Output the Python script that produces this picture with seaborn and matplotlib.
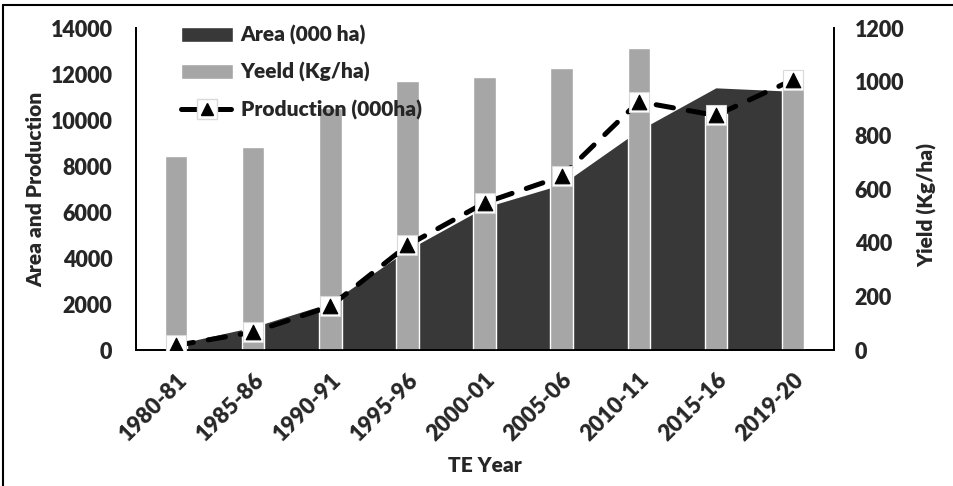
import matplotlib.pyplot as plt
import seaborn as sns
import pandas as pd
from matplotlib.lines import Line2D
from matplotlib.patches import Patch

# data
years = ['1980-81', '1985-86', '1990-91', '1995-96', '2000-01',
         '2005-06', '2010-11', '2015-16', '2019-20']
area = [250, 1000, 2050, 4350, 6200, 7200, 9550, 11400, 11250]
production = [200, 780, 1900, 4550, 6400, 7550, 10800, 10200, 11750]
yield_kg = [723, 757, 902, 1003, 1017, 1051, 1126, 880, 1030]

df = pd.DataFrame({'year': years, 'area': area,
                   'production': production, 'yield': yield_kg})
df['pos'] = range(len(df))

sns.set_style('white')
plt.rcParams['font.family'] = ['Lato', 'DejaVu Sans']
W = 'heavy'
plt.rcParams['font.weight'] = W

dark = '#383838'
light = '#a6a6a6'

fig = plt.figure(figsize=(9.54, 4.86), dpi=100)
ax1 = fig.add_axes([0.1426, 0.2798, 0.7314, 0.6625])
ax2 = ax1.twinx()
ax3 = fig.add_axes(ax1.get_position(), sharex=ax1, sharey=ax1)

# area (left axis, at the back)
ax1.fill_between(df['pos'], df['area'], color=dark, lw=0)

# yield bars (right axis)
sns.barplot(data=df, x='year', y='yield', ax=ax2, color=light,
            width=0.29, saturation=1)

# production line (left scale, on top)
sns.lineplot(data=df, x='pos', y='production', ax=ax3, color='black',
             lw=3.6, linestyle=(0, (3.5, 3)), dash_capstyle='round')
sns.scatterplot(data=df, x='pos', y='production', ax=ax3, marker='s',
                s=200, color='white', edgecolor='#d9d9d9', linewidth=0.8,
                zorder=3)
sns.scatterplot(data=df, x='pos', y='production', ax=ax3, marker='^',
                s=110, color='black', edgecolor='black', zorder=4)

ax1.set_xlim(-0.52, 8.53)
ax1.set_ylim(0, 14000)
ax2.set_ylim(0, 1200)
ax1.set_yticks(range(0, 14001, 2000))
ax2.set_yticks(range(0, 1201, 200))
ax1.set_xticks(df['pos'])
ax1.set_xticklabels(years, rotation=45, ha='right', va='top',
                    rotation_mode='anchor', fontsize=16, fontweight=W)

ax1.tick_params(axis='y', length=0, pad=17, labelsize=15.5)
ax2.tick_params(axis='y', length=0, pad=15, labelsize=15.5)
ax1.tick_params(axis='x', length=0, pad=14)
for lab in ax1.get_yticklabels() + ax2.get_yticklabels():
    lab.set_fontweight(W)

ax3.set_axis_off()
ax2.set_xlabel('')
ax2.set_ylabel('Yield (Kg/ha)', fontsize=15, fontweight=W)
ax2.yaxis.set_label_coords(1.12, 0.45)
ax1.set_ylabel('Area and Production', fontsize=15, fontweight=W)
ax1.yaxis.set_label_coords(-0.13, 0.5)
ax1.set_xlabel('TE Year', fontsize=15, fontweight=W)
ax1.xaxis.set_label_coords(0.5, -0.33)

for ax in (ax1, ax2):
    ax.spines['top'].set_visible(False)
    for s in ('left', 'right', 'bottom'):
        ax.spines[s].set_color('black')
        ax.spines[s].set_linewidth(1.3)

# legend
prod_handle = (Line2D([], [], color='black', lw=3.6, linestyle=(0, (3.5, 3)),
                      dash_capstyle='round'),
               Line2D([], [], ls='none', marker='s', ms=14, mfc='white',
                      mec='#d9d9d9'),
               Line2D([], [], ls='none', marker='^', ms=9, color='black'))
handles = [Patch(facecolor=dark), Patch(facecolor=light), prod_handle]
labels = ['Area (000 ha)', 'Yeeld (Kg/ha)', 'Production (000ha)']
ax3.legend(handles, labels, loc='upper left', frameon=False,
           bbox_to_anchor=(0.19, 0.948), bbox_transform=fig.transFigure,
           borderpad=0, borderaxespad=0, handlelength=2.5,
           handletextpad=0.35, labelspacing=0.82,
           prop={'size': 15, 'weight': W})

# outer frame
fig.add_artist(Line2D([3 / 954, 3 / 954], [0, 1 - 5 / 486],
                      color='black', lw=1.5))
fig.add_artist(Line2D([3 / 954, 1], [1 - 5 / 486, 1 - 5 / 486],
                      color='black', lw=1.5))

fig.savefig('out.png', dpi=100)
